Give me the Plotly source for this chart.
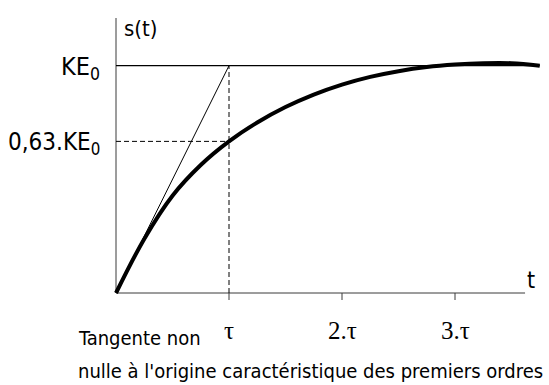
import plotly.graph_objects as go

# Step response of a first-order system (t in units of tau, s in units of K.E0)
t_curve = [0, 0.25, 0.5, 0.75, 1.0, 1.25, 1.5, 1.75, 2.0, 2.25, 2.5, 2.75, 3.0, 3.25, 3.5, 3.75]
s_curve = [0, 0.238, 0.428, 0.563, 0.667, 0.750, 0.818, 0.873, 0.917, 0.951, 0.976, 0.994, 1.005, 1.011, 1.011, 1.0]

tangent_t = [0, 1]
tangent_s = [0, 1]

final_value = 1.0
tau_value = 1.0
s_at_tau = 0.667
t_axis_end = 3.62
s_axis_end = 1.21
t_line_end = 3.75

tick_vals = [1, 2, 3]
tick_text = ["τ", "2.τ", "3.τ"]

HAND = "Liberation Sans Narrow, DejaVu Sans Condensed, Arial Narrow, sans-serif"
SERIF = "Liberation Serif, Times New Roman, serif"

W, H = 549, 385
ML, MR, MT, MB = 112, 2, 18, 83
x0_px, y0_px = 116, 293
px_per_t, px_per_s = 113.0, 227.3
x_range = [-(x0_px - ML) / px_per_t, (W - MR - x0_px) / px_per_t]
y_range = [-(H - MB - y0_px) / px_per_s, (y0_px - MT) / px_per_s]

fig = go.Figure()
AX = "#3a3a3a"

# axes
fig.add_trace(go.Scatter(x=[0, t_axis_end], y=[0, 0], mode="lines", line=dict(color=AX, width=1)))
fig.add_trace(go.Scatter(x=[0, 0], y=[0, s_axis_end], mode="lines", line=dict(color=AX, width=1)))
# tick marks
tx, ty = [], []
for v in tick_vals:
    tx += [v, v, None]
    ty += [0, -7 / px_per_s, None]
fig.add_trace(go.Scatter(x=tx, y=ty, mode="lines", line=dict(color=AX, width=1)))

# final value line
fig.add_trace(go.Scatter(x=[0, t_line_end], y=[final_value, final_value], mode="lines",
                         line=dict(color="black", width=1.3)))
# tangent at origin
fig.add_trace(go.Scatter(x=tangent_t, y=tangent_s, mode="lines", line=dict(color="black", width=1)))
# dashed guides
fig.add_trace(go.Scatter(x=[tau_value, tau_value], y=[0, final_value], mode="lines",
                         line=dict(color="black", width=1, dash="5px,3px")))
fig.add_trace(go.Scatter(x=[0, tau_value], y=[s_at_tau, s_at_tau], mode="lines",
                         line=dict(color="black", width=1, dash="5px,3px")))
# response curve
fig.add_trace(go.Scatter(x=t_curve, y=s_curve, mode="lines", line_shape="spline",
                         line=dict(color="black", width=4)))

ann = []
def hand(text, **kw):
    d = dict(text=text, showarrow=False, font=dict(family=HAND, size=kw.pop("size", 24), color="black"))
    d.update(kw)
    ann.append(d)

hand("KE<sub>0</sub>", xref="x", yref="y", x=0, y=final_value, xanchor="right", yanchor="middle",
     xshift=-14, yshift=-2, size=25)
hand("0,63.KE<sub>0</sub>", xref="x", yref="y", x=0, y=s_at_tau, xanchor="right", yanchor="middle",
     xshift=-14, yshift=-2, size=24)
hand("s(t)", xref="x", yref="y", x=0, y=(y0_px - 28) / px_per_s, xanchor="left", yanchor="middle",
     xshift=6, size=22)
hand("t", xref="x", yref="y", x=(531 - x0_px) / px_per_t, y=(y0_px - 280) / px_per_s,
     xanchor="center", yanchor="middle", size=23)

for v, lab in zip(tick_vals, tick_text):
    ann.append(dict(text=lab, xref="x", yref="y", x=v, y=0, xanchor="center", yanchor="middle",
                    yshift=-(330 - y0_px), showarrow=False,
                    font=dict(family=SERIF, size=25, color="black")))

def px_paper(px, py):
    return (px - ML) / (W - ML - MR), (H - MB - py) / (H - MT - MB)

lx, ly = px_paper(76, 338)
hand("Tangente non", xref="paper", yref="paper", x=lx, y=ly, xanchor="left", yanchor="middle", size=20)
lx, ly = px_paper(76, 371)
hand("nulle à l'origine caractéristique des premiers ordres", xref="paper", yref="paper",
     x=lx, y=ly, xanchor="left", yanchor="middle", size=20)

fig.update_layout(
    width=W, height=H, margin=dict(l=ML, r=MR, t=MT, b=MB),
    paper_bgcolor="white", plot_bgcolor="white", showlegend=False,
    xaxis=dict(range=x_range, visible=False, fixedrange=True),
    yaxis=dict(range=y_range, visible=False, fixedrange=True),
    annotations=ann,
)

fig.write_html("out.html", config={"displayModeBar": False},
               post_script="document.body.style.margin='0px';")
